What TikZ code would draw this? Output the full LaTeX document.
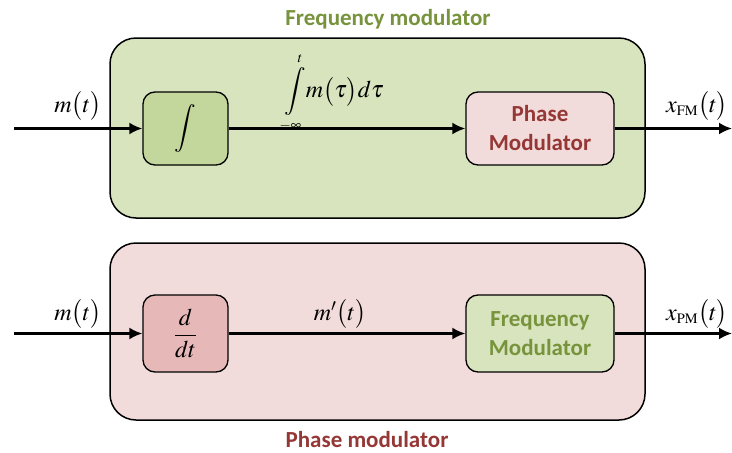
\documentclass[tikz,border=0pt]{standalone}
\usepackage{mathptmx}
\usepackage[no-math]{fontspec}
\setmainfont{Carlito}
\usetikzlibrary{arrows.meta}

\definecolor{fmouter}{HTML}{D7E4BD}
\definecolor{fminner}{HTML}{C3D69B}
\definecolor{pmouter}{HTML}{F2DCDB}
\definecolor{pminner}{HTML}{E6B9B8}
\definecolor{fmtext}{HTML}{77933C}
\definecolor{pmtext}{HTML}{953735}

\tikzset{
  outerbox/.style={draw, line width=1.5pt, rounded corners=26pt},
  innerbox/.style={draw, line width=1.3pt, rounded corners=12pt},
  signal/.style={line width=2.3pt, -{Latex[length=13pt,width=12pt]}},
  boxtext/.style={font=\bfseries\fontsize{23}{29}\selectfont, align=center},
  sig/.style={font=\fontsize{24}{28}\selectfont}
}

\begin{document}
\begin{tikzpicture}[x=1pt,y=-1pt]
  \useasboundingbox (0,0) rectangle (732,453);

  % the two systems
  \node[outerbox, fill=fmouter, minimum width=535pt, minimum height=180pt] (fmsys) at (377.5,128) {};
  \node[outerbox, fill=pmouter, minimum width=535pt, minimum height=177pt] (pmsys) at (377.5,331.5) {};
  \node[boxtext, text=fmtext] (fmtitle) at (388,19) {Frequency modulator};
  \node[boxtext, text=pmtext] (pmtitle) at (367,440) {Phase modulator};

  % blocks
  \begin{scope}[every node/.style={innerbox, inner sep=0pt}]
    \node[fill=fminner, minimum width=85pt, minimum height=73pt] (integ) at (185.5,128.5)
      {\fontsize{24}{28}\selectfont$\displaystyle\int$};
    \node[fill=pmouter, minimum width=148pt, minimum height=73pt, boxtext, text=pmtext] (phmod) at (540,128.5)
      {Phase\\Modulator};
    \node[fill=pminner, minimum width=85pt, minimum height=77pt] (deriv) at (185.5,333.5)
      {\fontsize{24}{28}\selectfont$\displaystyle\frac{d}{dt}$};
    \node[fill=fmouter, minimum width=148pt, minimum height=77pt, boxtext, text=fmtext] (frmod) at (540,333.5)
      {Frequency\\Modulator};
  \end{scope}

  % free ends
  \coordinate (in1) at (14,128.5);
  \coordinate (out1) at (732,128.5);
  \coordinate (in2) at (14,333.5);
  \coordinate (out2) at (732,333.5);

  % signals
  \draw[signal] (in1) -- (integ);
  \draw[signal] (integ) -- (phmod);
  \draw[signal] (phmod) -- (out1);
  \draw[signal] (in2) -- (deriv);
  \draw[signal] (deriv) -- (frmod);
  \draw[signal] (frmod) -- (out2);

  % labels
  \begin{scope}[every node/.style={sig}]
    \node (lin1) at (78,106) {$m\bigl(t\bigr)$};
    \node (lmid1) at (334,93) {$\displaystyle\int\limits_{\scriptscriptstyle -\infty}^{\scriptscriptstyle t}\! m\bigl(\tau\bigr)d\tau$};
    \node (lout1) at (697,106) {$x_{\scriptscriptstyle\mathrm{FM}}\bigl(t\bigr)$};
    \node (lin2) at (78,314) {$m\bigl(t\bigr)$};
    \node (lmid2) at (340,314) {$m'\bigl(t\bigr)$};
    \node (lout2) at (697,314) {$x_{\scriptscriptstyle\mathrm{PM}}\bigl(t\bigr)$};
  \end{scope}
\end{tikzpicture}
\end{document}
